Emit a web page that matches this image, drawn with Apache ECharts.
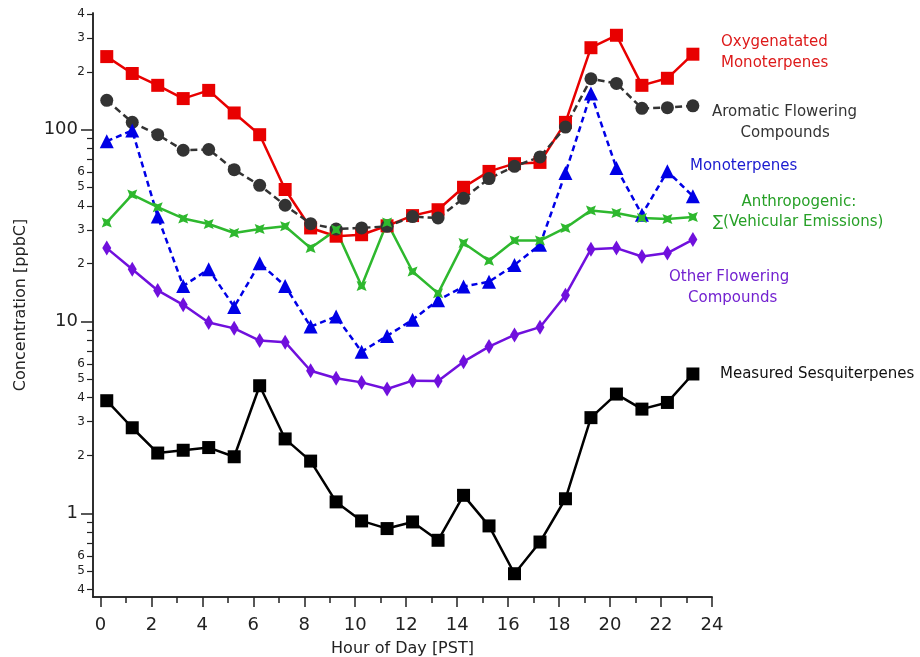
<!DOCTYPE html>
<html>
<head>
<meta charset="utf-8">
<script src="https://cdn.jsdelivr.net/npm/echarts@6.0.0/dist/echarts.min.js"></script>
<style>
  html, body { margin: 0; padding: 0; background: #fff; }
  #main { width: 920px; height: 657px; }
</style>
</head>
<body>
<div id="main"></div>
<script>
// hour of day (PST), points sit a quarter past each hour
var hours = [0.25, 1.25, 2.25, 3.25, 4.25, 5.25, 6.25, 7.25, 8.25, 9.25, 10.25, 11.25,
  12.25, 13.25, 14.25, 15.25, 16.25, 17.25, 18.25, 19.25, 20.25, 21.25, 22.25, 23.25];

// concentrations [ppbC]
var oxyMono = [240, 196, 170, 145, 160, 122, 94, 48.7, 30.7, 27.8, 28.3, 31.5,
  35.6, 38.2, 50, 60.5, 66.4, 67.4, 109, 267, 310, 170, 185, 247];
var aromatic = [142, 109, 94, 78, 78.7, 61.8, 51.2, 40.3, 32.3, 30.3, 30.7, 31.3,
  35.2, 34.6, 43.8, 55.5, 64.3, 72, 103, 184, 174, 129, 130, 133];
var mono = [87, 98.8, 35.2, 15.3, 18.7, 11.9, 20.1, 15.3, 9.4, 10.6, 6.95, 8.4,
  10.2, 12.9, 15.2, 16.1, 19.7, 25.1, 59.4, 154, 63, 36, 60.6, 44.9];
var anthro = [32.8, 45.8, 39.4, 34.4, 32.2, 28.9, 30.3, 31.3, 24.1, 30, 15.3, 32.8,
  18.2, 14.0, 25.6, 20.7, 26.4, 26.4, 30.7, 37.9, 36.7, 34.6, 34.2, 35];
var otherFlow = [24.1, 18.7, 14.5, 12.2, 9.86, 9.2, 7.94, 7.79, 5.53, 5.05, 4.81, 4.44,
  4.91, 4.89, 6.17, 7.39, 8.5, 9.33, 13.7, 23.8, 24.1, 21.8, 22.7, 26.7];
var sesqui = [3.86, 2.79, 2.06, 2.13, 2.20, 1.97, 4.62, 2.44, 1.87, 1.146, 0.912, 0.832,
  0.901, 0.723, 1.24, 0.859, 0.484, 0.708, 1.19, 3.15, 4.18, 3.49, 3.78, 5.32];

// axis ticks
var yMajor = [1, 10, 100];
var yMinor = [0.4, 0.5, 0.6, 0.7, 0.8, 0.9, 2, 3, 4, 5, 6, 7, 8, 9,
  20, 30, 40, 50, 60, 70, 80, 90, 200, 300, 400];
var yMinorLabels = [0.4, 0.5, 0.6, 2, 3, 4, 5, 6, 20, 30, 40, 50, 60, 200, 300, 400];
var xMajor = [0, 2, 4, 6, 8, 10, 12, 14, 16, 18, 20, 22, 24];
var xMinor = [1, 3, 5, 7, 9, 11, 13, 15, 17, 19, 21, 23];

var FONT = 'DejaVu Sans';

function pair(ys) {
  return hours.map(function (h, i) { return [h, ys[i]]; });
}

function leadDigit(v) {
  var p = Math.pow(10, Math.floor(Math.log10(v) + 1e-9));
  return String(Math.round(v / p));
}

var myChart = echarts.init(document.getElementById('main'));

var yBase = {
  type: 'log',
  min: 0.366,
  max: 405,
  splitLine: { show: false },
  axisLine: { show: true, onZero: false, lineStyle: { color: '#222', width: 1.5 } }
};
var xBase = {
  type: 'value',
  min: -0.29,
  max: 24,
  splitLine: { show: false },
  axisLine: { show: true, onZero: false, lineStyle: { color: '#222', width: 1.5 } }
};

myChart.setOption({
  animation: false,
  backgroundColor: '#fff',
  grid: { left: 93, top: 13, width: 619, height: 584, outerBoundsMode: 'none', containLabel: false },
  xAxis: [
    Object.assign({}, xBase, {
      name: 'Hour of Day [PST]',
      nameLocation: 'middle',
      nameGap: 44,
      nameTextStyle: { fontFamily: FONT, fontSize: 16, color: '#222' },
      axisTick: { customValues: xMajor, length: 10, lineStyle: { color: '#222', width: 1.5 } },
      axisLabel: { customValues: xMajor, fontFamily: FONT, fontSize: 18, color: '#222', margin: 19 }
    }),
    Object.assign({}, xBase, {
      position: 'bottom',
      axisTick: { customValues: xMinor, length: 6, lineStyle: { color: '#222', width: 1.5 } },
      axisLabel: { show: false }
    })
  ],
  yAxis: [
    Object.assign({}, yBase, {
      name: 'Concentration [ppbC]',
      nameLocation: 'middle',
      nameGap: 64,
      nameTextStyle: { fontFamily: FONT, fontSize: 16, color: '#222' },
      axisTick: { customValues: yMajor, length: 12, lineStyle: { color: '#222', width: 1.5 } },
      axisLabel: {
        customValues: yMajor, fontFamily: FONT, fontSize: 18, color: '#222', margin: 15,
        formatter: function (v) { return String(Math.round(v * 1000) / 1000); }
      }
    }),
    Object.assign({}, yBase, {
      position: 'left',
      axisTick: { customValues: yMinor, length: 6, lineStyle: { color: '#222', width: 1.2 } },
      axisLabel: {
        customValues: yMinorLabels, fontFamily: FONT, fontSize: 12, color: '#222', margin: 8,
        formatter: function (v) { return leadDigit(v); }
      }
    })
  ],
  series: [
    {
      name: 'Oxygenatated Monoterpenes', type: 'line', data: pair(oxyMono),
      symbol: 'rect', symbolSize: 13,
      lineStyle: { color: '#e80000', width: 2.5 },
      itemStyle: { color: '#e80000' }
    },
    {
      name: 'Aromatic Flowering Compounds', type: 'line', data: pair(aromatic),
      symbol: 'circle', symbolSize: 13,
      lineStyle: { color: '#333333', width: 2.5, type: [7, 4] },
      itemStyle: { color: '#333333' }
    },
    {
      name: 'Monoterpenes', type: 'line', data: pair(mono),
      symbol: 'triangle', symbolSize: 14,
      lineStyle: { color: '#0000e6', width: 2.5, type: [6, 4] },
      itemStyle: { color: '#0000e6' }
    },
    {
      name: 'Anthropogenic', type: 'line', data: pair(anthro),
      symbol: 'path://M0,0L5,2L10,0L8,5L10,10L5,8L0,10L2,5Z', symbolSize: 10,
      lineStyle: { color: '#2eb82e', width: 2.5 },
      itemStyle: { color: '#2eb82e' }
    },
    {
      name: 'Other Flowering Compounds', type: 'line', data: pair(otherFlow),
      symbol: 'diamond', symbolSize: [9, 15],
      lineStyle: { color: '#7010dd', width: 2.5 },
      itemStyle: { color: '#7010dd' }
    },
    {
      name: 'Measured Sesquiterpenes', type: 'line', data: pair(sesqui),
      symbol: 'rect', symbolSize: 13,
      lineStyle: { color: '#000', width: 2.5 },
      itemStyle: { color: '#000' }
    }
  ],
  graphic: [
    { type: 'text', left: 721, top: 32, style: { text: 'Oxygenatated\nMonoterpenes', fill: '#dd1a1a', font: '15px ' + FONT, lineHeight: 21, textAlign: 'left' } },
    { type: 'text', left: 712, top: 102, style: { text: 'Aromatic Flowering\n      Compounds', fill: '#333', font: '15px ' + FONT, lineHeight: 21 } },
    { type: 'text', left: 690, top: 159, style: { text: 'Monoterpenes', fill: '#1a1ad0', font: '15px ' + FONT } },
    { type: 'text', left: 713, top: 192, style: { text: '      Anthropogenic:\n∑(Vehicular Emissions)', fill: '#27a027', font: '15px ' + FONT, lineHeight: 20 } },
    { type: 'text', left: 669, top: 267, style: { text: 'Other Flowering\n    Compounds', fill: '#7322d0', font: '15px ' + FONT, lineHeight: 21 } },
    { type: 'text', left: 720, top: 367, style: { text: 'Measured Sesquiterpenes', fill: '#111', font: '15px ' + FONT } }
  ]
});
</script>
</body>
</html>
